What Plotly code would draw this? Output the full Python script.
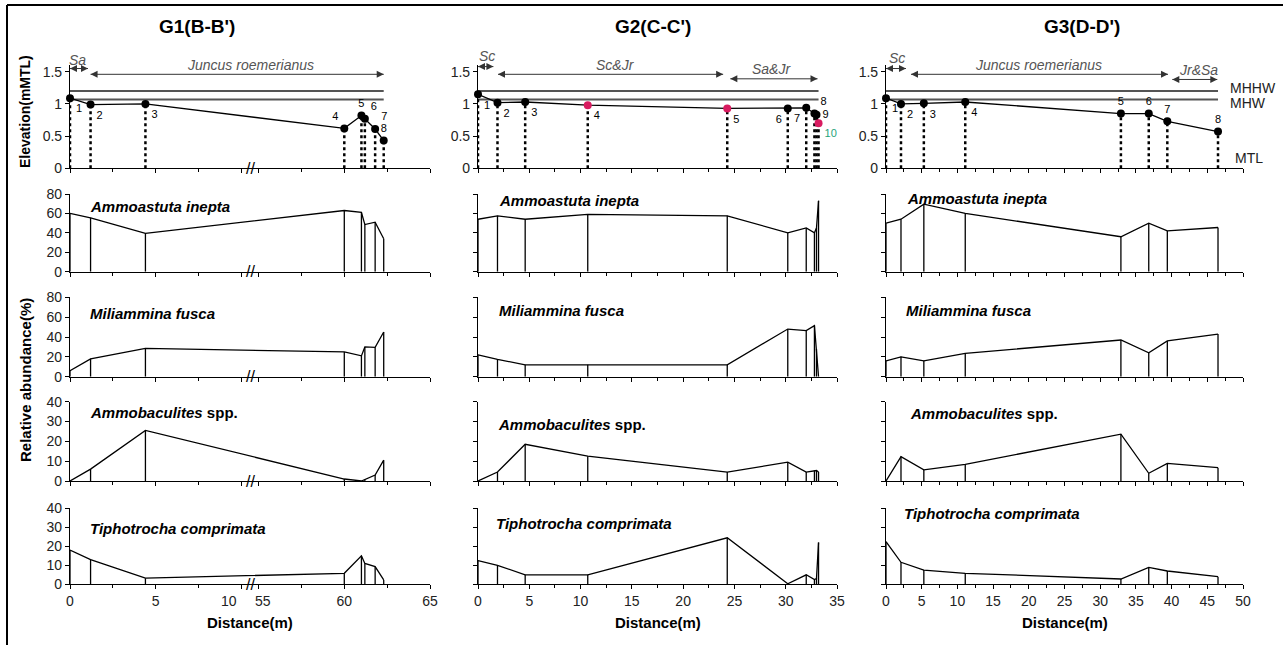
import plotly.graph_objects as go

W, H = 1283, 645
FONT = "Arial, Liberation Sans, sans-serif"

# ------------------------------------------------------------------ data
g1_dist = [0, 1.2, 4.4, 60.0, 61.0, 61.2, 61.8, 62.3]
g1_elev = [1.09, 0.99, 1.0, 0.62, 0.82, 0.77, 0.61, 0.43]
g1_inepta = [60, 55.5, 39.5, 63, 61, 48.5, 51, 34]
g1_fusca = [6, 18, 28.5, 25, 21, 30, 29.5, 45]
g1_ammob = [0, 6, 25.5, 1, 0, 0.8, 3, 10.5]
g1_tipho = [18, 13, 3.2, 5.8, 15, 11, 9.3, 2.3]
g1_labels = ["1", "2", "3", "4", "5", "6", "7", "8"]
g1_zones = [(0, 1.05, "Sa"), (1.2, 62.3, "Juncus roemerianus")]
g1_ticks = [0, 5, 10, 55, 60, 65]

g2_dist = [0, 1.9, 4.6, 10.7, 24.3, 30.2, 32.0, 32.8, 33.0, 33.2]
g2_elev = [1.15, 1.02, 1.03, 0.98, 0.93, 0.93, 0.94, 0.85, 0.83, 0.70]
g2_inepta = [54, 57.5, 54, 59, 57.5, 40, 45, 40, 45, 73]
g2_fusca = [22, 17.5, 12, 12, 12, 48, 46.5, 51.5, 28, 0]
g2_ammob = [0, 4.5, 18.5, 12.5, 4.5, 9.5, 4.5, 5.3, 5.3, 4.5]
g2_tipho = [12.5, 10, 5, 5, 24.5, 0.3, 5, 2.5, 3, 22]
g2_labels = ["1", "2", "3", "4", "5", "6", "7", "8", "9", "10"]
g2_zones = [(0, 1.5, "Sc"), (1.95, 23.9, "Sc&Jr"), (24.6, 33.1, "Sa&Jr")]

g3_dist = [0, 2.1, 5.3, 11.1, 32.9, 36.8, 39.4, 46.5]
g3_elev = [1.09, 1.0, 1.01, 1.03, 0.85, 0.85, 0.73, 0.57]
g3_inepta = [50, 54, 69.5, 60, 36, 50, 42, 45.5]
g3_fusca = [16, 20, 16, 23.5, 37, 24, 36, 43]
g3_ammob = [0, 12.3, 5.6, 8.4, 23.6, 3.9, 8.9, 6.7]
g3_tipho = [22.4, 11.6, 7.5, 5.8, 2.8, 8.9, 7, 4]
g3_labels = ["1", "2", "3", "4", "5", "6", "7", "8"]
g3_zones = [(0, 2.8, "Sc"), (3.5, 39.5, "Juncus roemerianus"), (40.1, 46.4, "Jr&Sa")]

MHHW = 1.2
MHW = 1.07
species = ["Ammoastuta inepta", "Miliammina fusca", "Ammobaculites spp.", "Tiphotrocha comprimata"]
titles = ["G1(B-B')", "G2(C-C')", "G3(D-D')"]

# G1 x axis is broken between 10.5 m and 54.5 m
BREAK_LO, BREAK_HI = 10.5, 54.5


def g1x(d):
    return d if d <= BREAK_LO else d - (BREAK_HI - BREAK_LO)


def ident(d):
    return d


# ------------------------------------------------------------------ styles
RED = "#d81b60"
GREEN = "#1fa37a"
# tick labels either side of the break drawn as annotations (shifted apart)
break_label_shift = {10: -12, 55: 4}
cols = [
    dict(dist=g1_dist, elev=g1_elev, ab=[g1_inepta, g1_fusca, g1_ammob, g1_tipho],
         labels=g1_labels, zones=g1_zones, tf=g1x,
         zone_y=[1.55, 1.46], zone_lx=[0.45, 10.5], zone_ly=[1.68, 1.61],
         mcol=["black"] * 8, tcol=["black"] * 8,
         tpos=["bottom right", "bottom right", "bottom right", "top left",
               "top center", "top right", "top right", "top center"],
         xrange=[0, 21], tickvals=[g1x(t) for t in g1_ticks],
         ticktext=["" if t in break_label_shift else str(t) for t in g1_ticks],
         minor=[g1x(t) for t in (2.5, 7.5, 57.5, 62.5)], dom=(70, 430), title_x=197,
         sp=[(88, 206), (88, 313), (88, 412), (88, 528)]),
    dict(dist=g2_dist, elev=g2_elev, ab=[g2_inepta, g2_fusca, g2_ammob, g2_tipho],
         labels=g2_labels, zones=g2_zones, tf=ident,
         zone_y=[1.58, 1.46, 1.39], zone_lx=[0.9, 13.4, 28.6], zone_ly=[1.74, 1.61, 1.54],
         mcol=["black", "black", "black", RED, RED, "black", "black", "black", "black", RED],
         tcol=["black"] * 9 + [GREEN],
         tpos=["bottom right", "bottom right", "bottom right", "bottom right", "bottom right",
               "bottom left", "bottom left", "top right", "middle right", "bottom right"],
         xrange=[0, 35], tickvals=list(range(0, 36, 5)), ticktext=None,
         minor=None, dom=(478, 837), title_x=653,
         sp=[(497, 200), (497, 311), (496, 424), (494, 523)]),
    dict(dist=g3_dist, elev=g3_elev, ab=[g3_inepta, g3_fusca, g3_ammob, g3_tipho],
         labels=g3_labels, zones=g3_zones, tf=ident,
         zone_y=[1.55, 1.46, 1.38], zone_lx=[1.5, 21.3, 43.7], zone_ly=[1.72, 1.61, 1.53],
         mcol=["black"] * 8, tcol=["black"] * 8,
         tpos=["bottom right", "bottom right", "bottom right", "bottom right",
               "top center", "top center", "top center", "top center"],
         xrange=[0, 50], tickvals=list(range(0, 51, 5)), ticktext=None,
         minor=None, dom=(886, 1243), title_x=1082,
         sp=[(905, 199), (904, 311), (908, 413), (902, 513)]),
]

# vertical placement (pixel top / bottom of each row's plot area)
rows_px = [(65.3, 168.3), (194, 271.7), (297.3, 376.7), (401.7, 481), (508.3, 584.3)]
yranges = [[0, 1.6], [0, 80], [0, 80], [0, 40], [0, 40]]
yticks = [[0, 0.5, 1, 1.5], [0, 20, 40, 60, 80], [0, 20, 40, 60, 80],
          [0, 10, 20, 30, 40], [0, 10, 20, 30, 40]]
yticktext = [["0", "0.5", "1", "1.5"], None, None, None, None]


def px_x(p):
    return p / W


def px_y(p):
    return 1 - p / H


fig = go.Figure()
annotations = []
layout = {}


def ann(**kw):
    kw.setdefault("xanchor", "center")
    kw.setdefault("yanchor", "middle")
    kw.setdefault("showarrow", False)
    annotations.append(kw)


def axn(r, c):
    return r * 3 + c + 1


for c, col in enumerate(cols):
    tf = col["tf"]
    xs = [tf(d) for d in col["dist"]]
    for r in range(5):
        n = axn(r, c)
        xa = "x" if n == 1 else f"x{n}"
        ya = "y" if n == 1 else f"y{n}"
        if r == 0:
            # tide levels
            for lvl in (MHHW, MHW):
                fig.add_trace(go.Scatter(x=[0, xs[-1]], y=[lvl, lvl], mode="lines",
                                         line=dict(color="#555", width=2),
                                         xaxis=xa, yaxis=ya, hoverinfo="skip"))
            # dotted drop lines
            dx, dy = [], []
            for x, e in zip(xs, col["elev"]):
                dx += [x, x, None]
                dy += [0, e, None]
            fig.add_trace(go.Scatter(x=dx, y=dy, mode="lines",
                                     line=dict(color="black", width=2.5, dash="dot"),
                                     xaxis=xa, yaxis=ya, hoverinfo="skip"))
            # elevation profile
            fig.add_trace(go.Scatter(x=xs, y=col["elev"], mode="lines+markers+text",
                                     line=dict(color="black", width=1.3),
                                     marker=dict(color=col["mcol"], size=8),
                                     text=col["labels"], textposition=col["tpos"],
                                     textfont=dict(family=FONT, size=11, color=col["tcol"]),
                                     cliponaxis=False, xaxis=xa, yaxis=ya))
            # vegetation zones
            ymax = yranges[0][1]
            for (z0, z1, name), zy, lx, ly in zip(col["zones"], col["zone_y"],
                                                   col["zone_lx"], col["zone_ly"]):
                fig.add_trace(go.Scatter(x=[tf(z0), tf(z1)], y=[zy, zy], mode="lines+markers",
                                         line=dict(color="#333", width=1),
                                         marker=dict(symbol=["arrow-bar-left", "arrow-bar-right"],
                                                     size=7, color="#333"),
                                         cliponaxis=False, xaxis=xa, yaxis=ya))
                ann(x=tf(lx), y=ly / ymax, xref=xa, yref=f"{ya} domain",
                    text=f"<i>{name}</i>", font=dict(family=FONT, size=14, color="#555"))
        else:
            vals = col["ab"][r - 1]
            dx, dy = [], []
            for x, v in zip(xs, vals):
                dx += [x, x, None]
                dy += [0, v, None]
            fig.add_trace(go.Scatter(x=dx, y=dy, mode="lines",
                                     line=dict(color="black", width=1.3),
                                     xaxis=xa, yaxis=ya, hoverinfo="skip"))
            fig.add_trace(go.Scatter(x=xs, y=vals, mode="lines",
                                     line=dict(color="black", width=1.3),
                                     cliponaxis=False, xaxis=xa, yaxis=ya))
            sx, sy = col["sp"][r - 1]
            name = species[r - 1]
            if name.endswith("spp."):
                txt = "<b><i>" + name.replace(" spp.", "") + "</i> spp.</b>"
            else:
                txt = f"<b><i>{name}</i></b>"
            ann(x=px_x(sx), y=px_y(sy), xref="paper", yref="paper", xanchor="left",
                text=txt, font=dict(family=FONT, size=15, color="black"))

        # axes
        xkey = "xaxis" if n == 1 else f"xaxis{n}"
        ykey = "yaxis" if n == 1 else f"yaxis{n}"
        xa_d = dict(domain=[px_x(col["dom"][0]), px_x(col["dom"][1])], range=col["xrange"],
                    anchor=ya, showline=True, linecolor="black", linewidth=1.2,
                    ticks="outside", ticklen=4, tickcolor="black", showgrid=False,
                    zeroline=False, tickvals=col["tickvals"], showticklabels=(r == 4),
                    tickangle=0, automargin=False,
                    tickfont=dict(family=FONT, size=14, color="#222"), fixedrange=True)
        if col["ticktext"]:
            xa_d["ticktext"] = col["ticktext"]
            xa_d["tickmode"] = "array"
        if col["minor"]:
            xa_d["minor"] = dict(tickvals=col["minor"], ticks="outside", ticklen=3,
                                 tickcolor="black")
        else:
            xa_d["minor"] = dict(dtick=2.5, ticks="outside", ticklen=3, tickcolor="black")
        top, bot = rows_px[r]
        ya_d = dict(domain=[px_y(bot), px_y(top)], range=yranges[r], anchor=xa,
                    showline=True, linecolor="black", linewidth=1.2, ticks="outside",
                    ticklen=4, tickcolor="black", showgrid=False, zeroline=False,
                    tickvals=yticks[r], showticklabels=(r == 0 or c == 0), automargin=False,
                    tickfont=dict(family=FONT, size=14, color="#222"), fixedrange=True)
        if yticktext[r]:
            ya_d["ticktext"] = yticktext[r]
        layout[xkey] = xa_d
        layout[ykey] = ya_d

        # axis break marks on G1 and the shifted labels either side of it
        if c == 0:
            ann(x=BREAK_LO, y=0, xref=xa, yref=ya, text="//",
                font=dict(family=FONT, size=16, color="black"))
            if r == 4:
                for t, sh in break_label_shift.items():
                    ann(x=g1x(t), y=0, xref=xa, yref=ya, xshift=sh, yshift=-17, text=str(t),
                        font=dict(family=FONT, size=14, color="#222"))

    # column titles and x axis titles
    ann(x=px_x(col["title_x"]), y=px_y(27), xref="paper", yref="paper",
        text=f"<b>{titles[c]}</b>", font=dict(family=FONT, size=19, color="black"))
    ann(x=px_x((col["dom"][0] + col["dom"][1]) / 2), y=px_y(622), xref="paper", yref="paper",
        text="<b>Distance(m)</b>", font=dict(family=FONT, size=15, color="black"))

# tide level labels
for txt, (lx, ly) in zip(["MHHW", "MHW", "MTL"], [(1228, 88), (1228, 103), (1233, 158)]):
    ann(x=px_x(lx), y=px_y(ly), xref="paper", yref="paper", xanchor="left",
        text=txt, font=dict(family=FONT, size=14, color="#222"))

# y-axis titles
ann(x=px_x(25), y=px_y(112), xref="paper", yref="paper", textangle=-90,
    text="<b>Elevation(mMTL)</b>", font=dict(family=FONT, size=14, color="black"))
ann(x=px_x(25), y=px_y(380), xref="paper", yref="paper", textangle=-90,
    text="<b>Relative abundance(%)</b>", font=dict(family=FONT, size=15, color="black"))

shapes = [
    dict(type="line", xref="paper", yref="paper", x0=px_x(7), x1=1.0, y0=px_y(5), y1=px_y(5),
         line=dict(color="black", width=2)),
    dict(type="line", xref="paper", yref="paper", x0=px_x(7), x1=px_x(7), y0=0, y1=px_y(5),
         line=dict(color="black", width=2)),
]

fig.update_layout(width=W, height=H, margin=dict(l=0, r=0, t=0, b=0, pad=0, autoexpand=False),
                  paper_bgcolor="white", plot_bgcolor="white", showlegend=False,
                  annotations=annotations, shapes=shapes, font=dict(family=FONT), **layout)

fig.write_html("out.html", config={"displayModeBar": False},
               post_script="document.body.style.margin='0';document.body.style.padding='0';"
                           "document.body.style.overflow='hidden';")
